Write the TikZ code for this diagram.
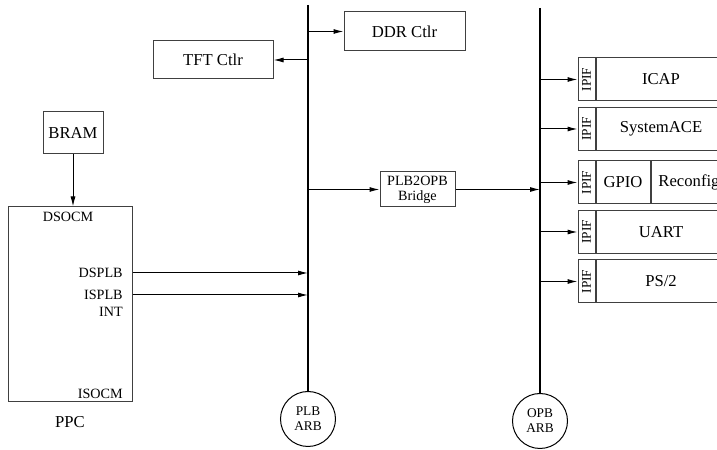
\documentclass[tikz,border=0pt]{standalone}
\usepackage{fontspec}
\setmainfont{Liberation Serif}
\usetikzlibrary{arrows.meta}

\begin{document}
\begin{tikzpicture}[x=0.6pt,y=-0.6pt,
  box/.style={draw=black!75,line width=0.6pt,inner sep=0pt,font=\fontsize{10}{12}\selectfont},
  ipif/.style={box,minimum width=10.2pt,minimum height=25.8pt,font=\fontsize{8}{9}\selectfont},
  port/.style={inner sep=0pt,font=\fontsize{8.5}{10}\selectfont},
  arb/.style={draw,circle,line width=0.6pt,minimum size=33pt,inner sep=0pt,align=center,font=\fontsize{8}{9}\selectfont},
  bus/.style={line width=1.4pt},
  arr/.style={line width=0.6pt,-{Latex[length=6pt,width=3pt]}}]
\useasboundingbox (0,0) rectangle (717,450);
\clip (0,0) rectangle (717,450);

% buses and arbiters
\node[arb] (plbarb) at (308,419) {PLB\\ARB};
\node[arb] (opbarb) at (540,421) {OPB\\ARB};
\coordinate (plbtop) at (308,5);
\coordinate (opbtop) at (540,8);
\draw[bus] (plbtop) -- (plbarb.north);
\draw[bus] (opbtop) -- (opbarb.north);

% PLB side
\node[box,minimum width=72.6pt,minimum height=23.4pt] (ddr) at (404.5,31.5) {DDR Ctlr};
\node[box,minimum width=72pt,minimum height=22.8pt] (tft) at (213,60) {TFT Ctlr};
\node[box,minimum width=36pt,minimum height=25.2pt] (bram) at (73,133) {BRAM};
\node[box,minimum width=74.4pt,minimum height=117pt] (ppc) at (70,304.5) {};
\node[below=5pt] (ppclabel) at (ppc.south) {\fontsize{10}{12}\selectfont PPC};
\node[port] (dsocm) at (68,217) {DSOCM};
\node[port,anchor=east] (dsplb) at (123,273) {DSPLB};
\node[port,anchor=east] (isplb) at (123,295) {ISPLB};
\node[port,anchor=east] (int) at (123,312) {INT};
\node[port,anchor=east] (isocm) at (123,394) {ISOCM};

\draw[arr] (plbtop |- ddr.west) -- (ddr.west);
\draw[arr] (plbtop |- tft.east) -- (tft.east);
\draw[arr] (bram.south) -- (bram.south |- ppc.north);
\draw[arr] (ppc.east |- dsplb) -- (plbtop |- dsplb);
\draw[arr] (ppc.east |- isplb) -- (plbtop |- isplb);

% bridge
\node[box,minimum width=45pt,minimum height=21pt,align=center,font=\fontsize{8.5}{9}\selectfont] (bridge) at (417.5,189.5) {PLB2OPB\\Bridge};
\draw[arr] (plbtop |- bridge.west) -- (bridge.west);
\draw[arr] (bridge.east) -- (opbtop |- bridge.east);

% OPB peripherals
\foreach \name/\y/\txt in {icap/79.5/ICAP,sace/129/SystemACE,uart/232/UART,ps/281.5/{PS/2}}{
  \node[ipif] (\name if) at (586.5,\y) {\rotatebox{90}{IPIF}};
  \node[box,minimum width=78pt,minimum height=25.8pt,anchor=west] (\name) at (\name if.east) {\txt};
  \draw[arr] (opbtop |- \name if.west) -- (\name if.west);
}
\node[ipif] (gpioif) at (586.5,182.5) {\rotatebox{90}{IPIF}};
\node[box,minimum width=32.4pt,minimum height=25.8pt,anchor=west] (gpio) at (gpioif.east) {GPIO};
\node[box,minimum width=45.6pt,minimum height=25.8pt,anchor=west] (reconfig) at (gpio.east) {Reconfig};
\draw[arr] (opbtop |- gpioif.west) -- (gpioif.west);
\end{tikzpicture}
\end{document}
